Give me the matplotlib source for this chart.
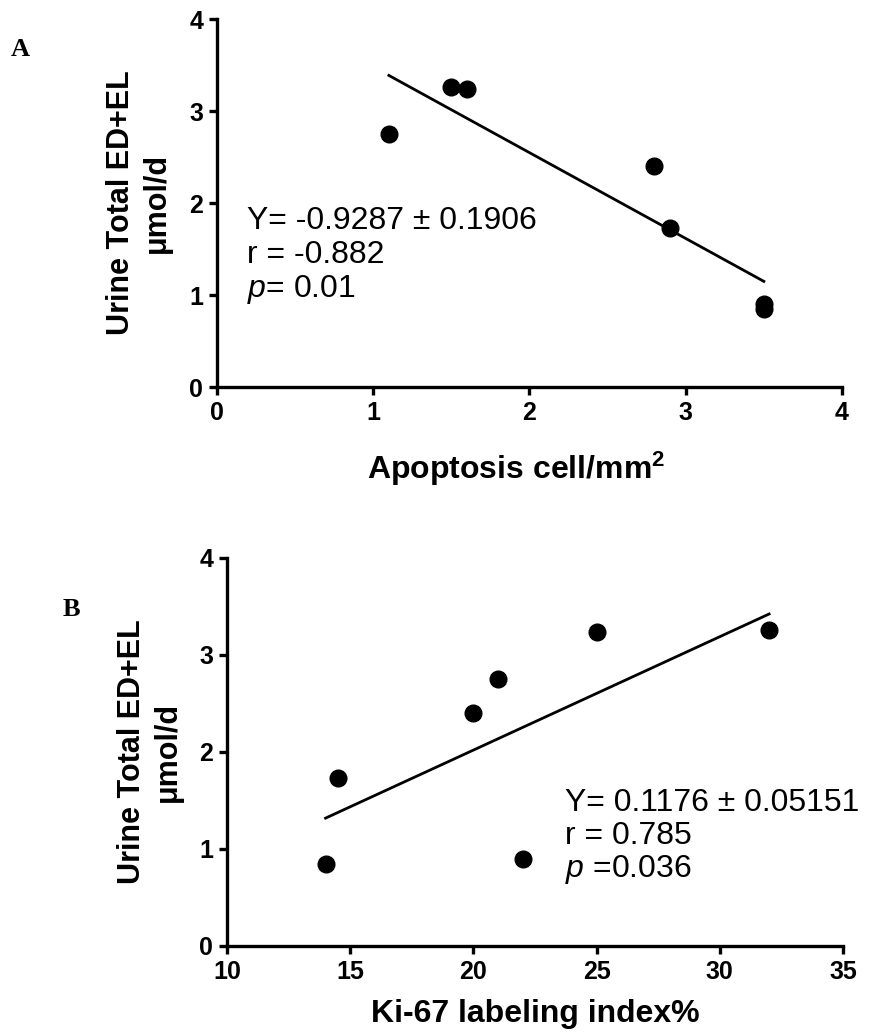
import numpy as np
import matplotlib
matplotlib.use("Agg")
import matplotlib.pyplot as plt

plt.rcParams['font.family'] = ['Liberation Sans', 'DejaVu Sans']
plt.rcParams['mathtext.fontset'] = 'custom'
plt.rcParams['mathtext.rm'] = 'Liberation Sans'
plt.rcParams['mathtext.it'] = 'Liberation Sans:italic'
plt.rcParams['mathtext.bf'] = 'Liberation Sans:bold'

# urine total ED+EL (umol/d), same samples in both panels
urine = [2.75, 3.26, 3.24, 2.40, 1.73, 0.90, 0.85]
apoptosis = [1.1, 1.5, 1.6, 2.8, 2.9, 3.5, 3.5]
ki67 = [21.0, 32.0, 25.0, 20.0, 14.5, 22.0, 14.0]

stats_a = ["Y= -0.9287 \u00b1 0.1906", "r = -0.882", r"$\mathit{p}$= 0.01"]
stats_b = ["Y= 0.1176 \u00b1 0.05151", "r = 0.785", r"$\mathit{p}$ =0.036"]

ylabel = "Urine Total ED+EL\n\u03bcmol/d"

fig = plt.figure(figsize=(8.69, 10.36), dpi=100)
ax1 = fig.add_axes([0.2497, 0.6264, 0.7192, 0.3552])
ax2 = fig.add_axes([0.2612, 0.0869, 0.7089, 0.3745])


def style(ax, xticks):
    for s in ['top', 'right']:
        ax.spines[s].set_visible(False)
    for s in ['left', 'bottom']:
        ax.spines[s].set_linewidth(2.4)
    ax.tick_params(width=2.4, length=6, direction='out', labelsize=18, pad=4)
    ax.set_xticks(xticks)
    ax.set_yticks([0, 1, 2, 3, 4])
    ax.set_ylim(0, 4)
    ax.set_xlim(xticks[0], xticks[-1])
    for lab in ax.get_xticklabels() + ax.get_yticklabels():
        lab.set_fontweight('bold')
    ax.set_ylabel(ylabel, fontsize=22, fontweight='bold', linespacing=1.25)
    ax.yaxis.set_label_coords(-0.072, 0.5)


def fit_line(ax, x, y):
    x = np.array(x)
    k, b = np.polyfit(x, y, 1)
    xs = np.array([x.min(), x.max()])
    ax.plot(xs, k * xs + b, color='black', lw=2.0)
    ax.plot(x, y, 'o', color='black', ms=12)


# panel A
fit_line(ax1, apoptosis, urine)
style(ax1, [0, 1, 2, 3, 4])
ax1.set_xlabel("Apoptosis cell/mm$^\\mathbf{2}$", fontsize=23, fontweight='bold')
ax1.xaxis.set_label_coords(0.478, -0.17)
for i, t in enumerate(stats_a):
    ax1.text(0.19, 1.80 - i * 0.37, t, fontsize=23, va='center')
fig.text(0.012, 0.946, "A", fontsize=19, fontweight='bold', family='Liberation Serif')

# panel B
fit_line(ax2, ki67, urine)
style(ax2, [10, 15, 20, 25, 30, 35])
ax2.set_xlabel("Ki-67 labeling index%", fontsize=23, fontweight='bold', labelpad=11)
for i, t in enumerate(stats_b):
    ax2.text(23.7, 1.47 - i * 0.34, t, fontsize=23, va='center')
fig.text(0.072, 0.405, "B", fontsize=19, fontweight='bold', family='Liberation Serif')

plt.savefig("out.png", dpi=100)
